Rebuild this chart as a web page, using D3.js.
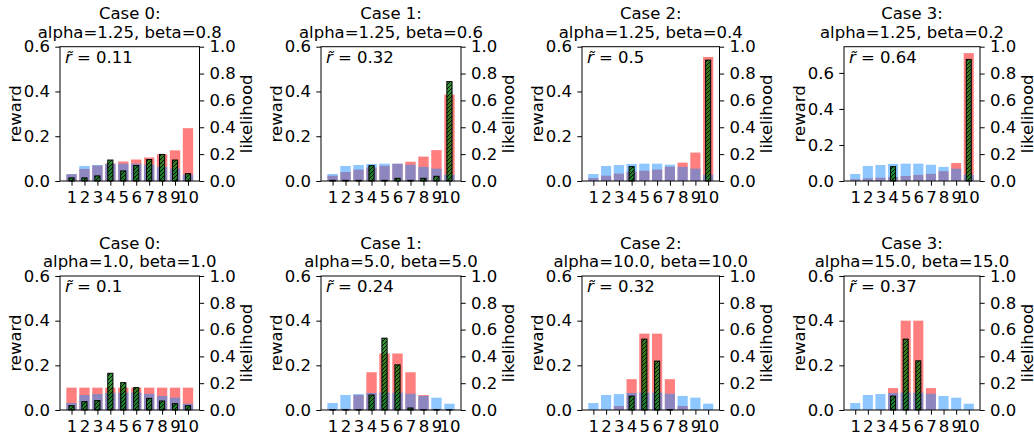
<!DOCTYPE html>
<html>
<head>
<meta charset="utf-8">
<script src="https://cdn.jsdelivr.net/npm/d3@7"></script>
<style>
  body { margin: 0; background: #fff; }
  text { font-family: "DejaVu Sans", sans-serif; fill: #000; }
</style>
</head>
<body>
<div id="chart"></div>
<script>
// categories on the x axis
const categories = [1, 2, 3, 4, 5, 6, 7, 8, 9, 10]

// base likelihood (blue, right axis) - same in every panel
const likelihood = [0.052, 0.112, 0.119, 0.127, 0.129, 0.129, 0.121, 0.105, 0.092, 0.047]

// reward per panel (red, left axis)
const rewardTop0 = [0.030, 0.054, 0.069, 0.078, 0.087, 0.096, 0.105, 0.120, 0.137, 0.236]
const rewardTop1 = [0.024, 0.040, 0.051, 0.060, 0.068, 0.077, 0.086, 0.109, 0.138, 0.386]
const rewardTop2 = [0.013, 0.024, 0.033, 0.042, 0.046, 0.051, 0.064, 0.082, 0.127, 0.554]
const rewardTop3 = [0.010, 0.015, 0.018, 0.022, 0.028, 0.034, 0.040, 0.055, 0.100, 0.710]
const rewardBot0 = [0.1, 0.1, 0.1, 0.1, 0.1, 0.1, 0.1, 0.1, 0.1, 0.1]
const rewardBot1 = [0.002, 0.005, 0.067, 0.169, 0.253, 0.253, 0.169, 0.067, 0.005, 0.002]
const rewardBot2 = [0.0005, 0.001, 0.018, 0.138, 0.342, 0.342, 0.138, 0.018, 0.001, 0.0005]
const rewardBot3 = [0, 0, 0.002, 0.098, 0.4, 0.4, 0.098, 0.002, 0, 0]

// reweighted likelihood per panel (green hatched, right axis)
const postTop0 = [0.023, 0.023, 0.038, 0.156, 0.075, 0.115, 0.160, 0.198, 0.156, 0.055]
const postTop1 = [0.005, 0.005, 0.005, 0.114, 0.005, 0.020, 0.005, 0.020, 0.035, 0.740]
const postTop2 = [0, 0, 0, 0.107, 0, 0, 0, 0, 0, 0.900]
const postTop3 = [0, 0, 0, 0.107, 0, 0, 0, 0, 0, 0.905]
const postBot0 = [0.032, 0.062, 0.070, 0.274, 0.204, 0.167, 0.087, 0.067, 0.047, 0.032]
const postBot1 = [0.002, 0.002, 0.002, 0.112, 0.536, 0.337, 0.015, 0.002, 0.002, 0.002]
const postBot2 = [0, 0, 0, 0.104, 0.529, 0.365, 0.003, 0, 0, 0]
const postBot3 = [0, 0, 0, 0.104, 0.529, 0.367, 0, 0, 0, 0]

// titles and r-tilde values
const caseNames = ["Case 0:", "Case 1:", "Case 2:", "Case 3:"]
const paramsTop = ["alpha=1.25, beta=0.8", "alpha=1.25, beta=0.6", "alpha=1.25, beta=0.4", "alpha=1.25, beta=0.2"]
const paramsBot = ["alpha=1.0, beta=1.0", "alpha=5.0, beta=5.0", "alpha=10.0, beta=10.0", "alpha=15.0, beta=15.0"]
const rTildeTop = ["0.11", "0.32", "0.5", "0.64"]
const rTildeBot = ["0.1", "0.24", "0.32", "0.37"]

const rightTicks = [0, 0.2, 0.4, 0.6, 0.8, 1.0]

const width = 1034
const height = 438

const svg = d3.select("#chart")
    .append("svg")
    .attr("width", width)
    .attr("height", height)

// hatch pattern for the green bars
const defs = svg.append("defs")
defs.append("pattern")
    .attr("id", "hatch")
    .attr("patternUnits", "userSpaceOnUse")
    .attr("width", 4)
    .attr("height", 4)
    .append("path")
    .attr("d", "M-1,1 l2,-2 M0,4 l4,-4 M3,5 l2,-2")
    .attr("stroke", "#000")
    .attr("stroke-width", 1)

// axes boxes
const colX = [[60, 199.5], [321, 461], [582, 719.5], [844, 980]]
const rowY = [[46.7, 181], [276, 410]]

const panels = [
    { row: 0, col: 0, reward: rewardTop0, post: postTop0, title: paramsTop[0], r: rTildeTop[0] },
    { row: 0, col: 1, reward: rewardTop1, post: postTop1, title: paramsTop[1], r: rTildeTop[1] },
    { row: 0, col: 2, reward: rewardTop2, post: postTop2, title: paramsTop[2], r: rTildeTop[2] },
    { row: 0, col: 3, reward: rewardTop3, post: postTop3, title: paramsTop[3], r: rTildeTop[3] },
    { row: 1, col: 0, reward: rewardBot0, post: postBot0, title: paramsBot[0], r: rTildeBot[0] },
    { row: 1, col: 1, reward: rewardBot1, post: postBot1, title: paramsBot[1], r: rTildeBot[1] },
    { row: 1, col: 2, reward: rewardBot2, post: postBot2, title: paramsBot[2], r: rTildeBot[2] },
    { row: 1, col: 3, reward: rewardBot3, post: postBot3, title: paramsBot[3], r: rTildeBot[3] },
]

const tickFont = "16.5px"
const labelFont = "16.5px"

panels.forEach(function (p) {
    const left = colX[p.col][0], right = colX[p.col][1]
    const top = rowY[p.row][0], bottom = rowY[p.row][1]

    const x = d3.scaleLinear().domain([0.11, 10.89]).range([left, right])
    const yTop = Math.max(0.6, d3.max(p.reward) * 1.05)
    const yL = d3.scaleLinear().domain([0, yTop]).range([bottom, top])
    const yR = d3.scaleLinear().domain([0, 1]).range([bottom, top])

    const g = svg.append("g")

    // reward bars (left axis)
    g.append("g")
        .selectAll("rect")
        .data(categories)
        .enter()
        .append("rect")
        .attr("x", d => x(d - 0.4))
        .attr("width", d => x(d + 0.4) - x(d - 0.4))
        .attr("y", (d, i) => yL(p.reward[i]))
        .attr("height", (d, i) => yL(0) - yL(p.reward[i]))
        .attr("fill", "red")
        .attr("fill-opacity", 0.5)

    // likelihood bars (right axis)
    g.append("g")
        .selectAll("rect")
        .data(categories)
        .enter()
        .append("rect")
        .attr("x", d => x(d - 0.4))
        .attr("width", d => x(d + 0.4) - x(d - 0.4))
        .attr("y", (d, i) => yR(likelihood[i]))
        .attr("height", (d, i) => yR(0) - yR(likelihood[i]))
        .attr("fill", "dodgerblue")
        .attr("fill-opacity", 0.5)

    // reweighted bars, green with hatch
    const green = g.append("g")
    green.selectAll("rect.fill")
        .data(categories)
        .enter()
        .append("rect")
        .attr("class", "fill")
        .attr("x", d => x(d - 0.2))
        .attr("width", d => x(d + 0.2) - x(d - 0.2))
        .attr("y", (d, i) => yR(p.post[i]))
        .attr("height", (d, i) => yR(0) - yR(p.post[i]))
        .attr("fill", "green")
        .attr("fill-opacity", 0.8)
    green.selectAll("rect.hatch")
        .data(categories)
        .enter()
        .append("rect")
        .attr("class", "hatch")
        .attr("x", d => x(d - 0.2))
        .attr("width", d => x(d + 0.2) - x(d - 0.2))
        .attr("y", (d, i) => yR(p.post[i]))
        .attr("height", (d, i) => yR(0) - yR(p.post[i]))
        .attr("fill", "url(#hatch)")
        .attr("stroke", "#000")
        .attr("stroke-width", 1)

    // frame
    g.append("rect")
        .attr("x", left).attr("y", top)
        .attr("width", right - left).attr("height", bottom - top)
        .attr("fill", "none")
        .attr("stroke", "#000")
        .attr("stroke-width", 1)

    // axes
    const axL = g.append("g")
        .attr("transform", `translate(${left},0)`)
        .call(d3.axisLeft(yL).tickValues([0, 0.2, 0.4, 0.6]).tickFormat(d3.format(".1f")).tickSize(4.7).tickPadding(5.3))
    const axR = g.append("g")
        .attr("transform", `translate(${right},0)`)
        .call(d3.axisRight(yR).tickValues(rightTicks).tickFormat(d3.format(".1f")).tickSize(4.7).tickPadding(5.3))
    const axB = g.append("g")
        .attr("transform", `translate(0,${bottom})`)
        .call(d3.axisBottom(x).tickValues(categories).tickFormat(d => d).tickSize(4.7).tickPadding(5.3))
    ;[axL, axR, axB].forEach(function (a) {
        a.select(".domain").remove()
        a.selectAll("text").style("font-size", tickFont).attr("fill", "#000")
            .style("font-family", "'DejaVu Sans', sans-serif")
        a.selectAll("line").attr("stroke", "#000")
    })

    // axis labels
    g.append("text")
        .attr("transform", `translate(${left - 45},${(top + bottom) / 2}) rotate(-90)`)
        .attr("text-anchor", "middle")
        .attr("dy", "0.35em")
        .style("font-size", labelFont)
        .text("reward")
    g.append("text")
        .attr("transform", `translate(${right + 47},${(top + bottom) / 2}) rotate(-90)`)
        .attr("text-anchor", "middle")
        .attr("dy", "0.35em")
        .style("font-size", labelFont)
        .text("likelihood")

    // title, two lines
    const cx = (left + right) / 2
    g.append("text")
        .attr("x", cx).attr("y", top - 27.5)
        .attr("text-anchor", "middle")
        .style("font-size", labelFont)
        .text(caseNames[p.col])
    g.append("text")
        .attr("x", cx).attr("y", top - 9)
        .attr("text-anchor", "middle")
        .style("font-size", labelFont)
        .text(p.title)

    // r-tilde annotation
    const ann = g.append("text")
        .attr("x", left + 5).attr("y", top + 16)
        .style("font-size", labelFont)
    ann.append("tspan").style("font-style", "italic").text("r\u0303")
    ann.append("tspan").text(" = " + p.r)
})
</script>
</body>
</html>
